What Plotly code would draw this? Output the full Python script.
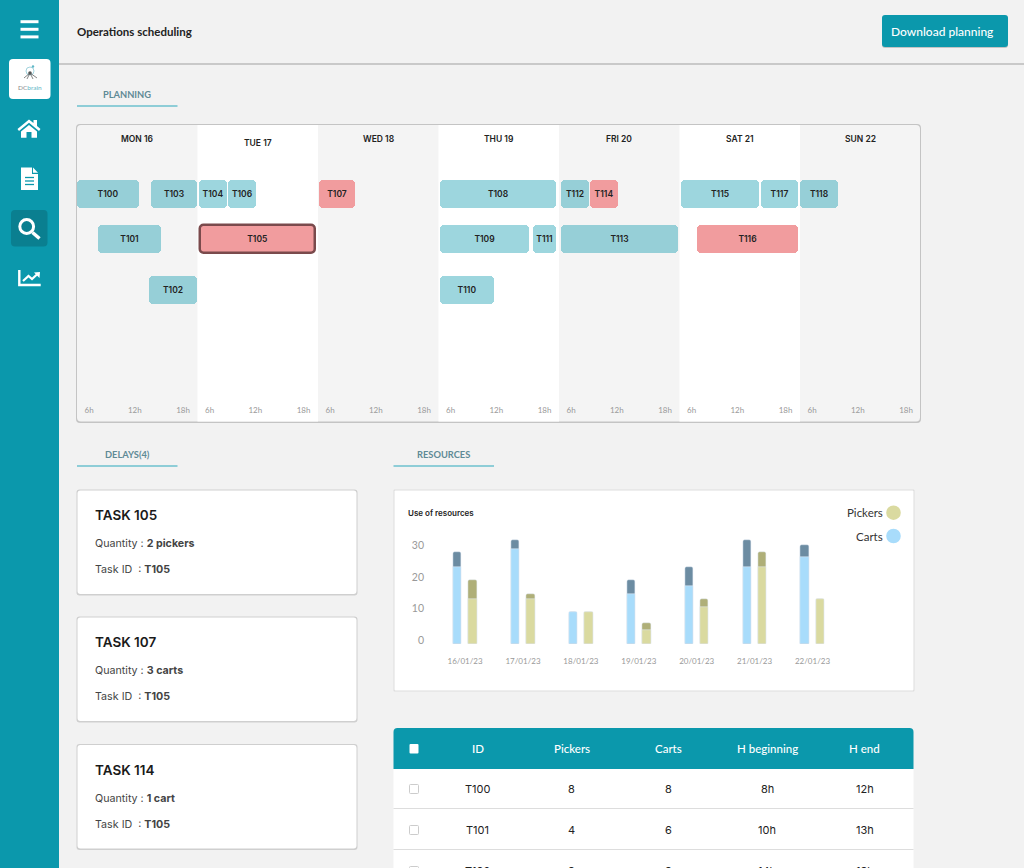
#!/usr/bin/env python3
"""
Operations scheduling page: planning, delays, use of resources and task table
"""

import plotly.graph_objects as go

PAGE_W = 1024
PAGE_H = 868

TEAL = '#0B98AC'
TASK_TEAL = 'rgba(11, 152, 172, 0.4)'
TASK_RED = '#F19C9E'
HEAD_FONT = 'Lato'
BODY_FONT = 'Inter'

# Planning (positions in days from Monday 00:00 of the axis)
day_labels = ['MON 16', 'TUE 17', 'WED 18', 'THU 19', 'FRI 20', 'SAT 21', 'SUN 22']
hour_labels = ['6h', '12h', '18h']
hour_offsets = [0.1, 0.48, 0.88]

task_names = ['T100', 'T101', 'T102', 'T103', 'T104', 'T106', 'T108', 'T109', 'T110',
              'T111', 'T112', 'T113', 'T115', 'T117', 'T118']
task_start = [0.0, 0.172, 0.6, 0.614, 1.012, 1.253, 3.01, 3.01, 3.01,
              3.784, 4.017, 4.017, 5.012, 5.676, 6.0]
task_end = [0.517, 0.697, 0.996, 0.996, 1.245, 1.485, 3.978, 3.751, 3.46,
            3.978, 4.249, 4.985, 5.66, 5.983, 6.313]
task_lane = [1, 2, 3.13, 1, 1, 1, 1, 2, 3.13, 2, 1, 2, 1, 1, 1]

late_names = ['T107', 'T114', 'T116']
late_start = [2.012, 4.257, 5.143]
late_end = [2.307, 4.49, 5.983]
late_lane = [1, 1, 2]

selected_names = ['T105']
selected_start = [1.017]
selected_end = [1.979]
selected_lane = [2]

# Use of resources
res_dates = ['16/01/23', '17/01/23', '18/01/23', '19/01/23', '20/01/23', '21/01/23', '22/01/23']
carts_low = [24.0, 29.7, 9.9, 15.6, 18.1, 24.0, 27.2]
carts_top = [28.65, 32.6, 9.9, 19.9, 24.0, 32.6, 30.8]
pickers_low = [13.9, 13.9, 9.9, 4.2, 11.6, 24.0, 13.9]
pickers_top = [19.9, 15.6, 9.9, 6.5, 13.9, 28.65, 13.9]
res_tick_vals = [0.95, 10.95, 20.95, 30.95]
res_tick_text = ['0', '10', '20', '30']

# Delays
delay_titles = ['TASK 105', 'TASK 107', 'TASK 114']
delay_quantity = ['2 pickers', '3 carts', '1 cart']
delay_task = ['T105', 'T105', 'T105']

# Table
table_columns = ['ID', 'Pickers', 'Carts', 'H beginning', 'H end']
table_ids = ['T100', 'T101', 'T102']
table_pickers = ['8', '4', '8']
table_carts = ['8', '6', '8']
table_begin = ['8h', '10h', '14h']
table_end = ['12h', '13h', '18h']


def page_x(px):
    """Page pixel to paper x"""
    return px / PAGE_W


def page_y(px):
    """Page pixel to paper y"""
    return 1 - px / PAGE_H


def page_path(path):
    """Turn a path written in page pixels into a paper path"""
    out = []
    is_x = True
    for token in path.split():
        if token.isalpha():
            out.append(token)
        elif is_x:
            out.append(f"{page_x(float(token)):.5f}")
            is_x = False
        else:
            out.append(f"{page_y(float(token)):.5f}")
            is_x = True
    return ' '.join(out)


def round_box(x0, y0, x1, y1, r=3, top_only=False):
    """SVG path of a rounded box in page pixels"""
    low = 0 if top_only else r
    return (f"M {x0 + r} {y0} L {x1 - r} {y0} Q {x1} {y0} {x1} {y0 + r} "
            f"L {x1} {y1 - low} Q {x1} {y1} {x1 - low} {y1} "
            f"L {x0 + low} {y1} Q {x0} {y1} {x0} {y1 - low} "
            f"L {x0} {y0 + r} Q {x0} {y0} {x0 + r} {y0} Z")


def add_box(fig, x0, y0, x1, y1, fill, r=3, line=None, width=0, top_only=False, layer='below'):
    """Rounded panel in page pixels"""
    fig.add_shape(
        type='path',
        path=page_path(round_box(x0, y0, x1, y1, r, top_only)),
        xref='paper', yref='paper',
        fillcolor=fill,
        line=dict(color=line or fill, width=width),
        layer=layer
    )


def add_stroke(fig, path, color='white', width=3, fill=None):
    """Stroked or filled path in page pixels"""
    fig.add_shape(
        type='path',
        path=page_path(path),
        xref='paper', yref='paper',
        fillcolor=fill,
        line=dict(color=color, width=width),
        layer='above'
    )


def add_circle(fig, x, y, r, fill=None, line=None, width=0, layer='above'):
    """Circle in page pixels"""
    fig.add_shape(
        type='circle',
        x0=page_x(x - r), x1=page_x(x + r),
        y0=page_y(y + r), y1=page_y(y - r),
        xref='paper', yref='paper',
        fillcolor=fill,
        line=dict(color=line, width=width),
        layer=layer
    )


def add_text(fig, x, y, text, size=11, color='#222222', anchor='left', family=HEAD_FONT, weight='normal'):
    """Text at a page pixel position"""
    fig.add_annotation(
        x=page_x(x), y=page_y(y),
        xref='paper', yref='paper',
        text=text,
        showarrow=False,
        xanchor=anchor, yanchor='middle',
        borderpad=0, borderwidth=0,
        font=dict(size=size, color=color, family=family, weight=weight)
    )


def draw_sidebar(fig):
    """Teal side menu and its icons"""
    fig.add_shape(type='rect', x0=0, x1=page_x(59), y0=0, y1=1, xref='paper', yref='paper',
                  fillcolor=TEAL, line=dict(width=0), layer='below')

    for y in [21.7, 29.3, 36.9]:  # hamburger
        add_stroke(fig, f"M 20.5 {y} L 38.5 {y}", width=3)

    add_box(fig, 9, 59, 50.5, 99, 'white', r=4)
    add_circle(fig, 30, 71, 4, line='#8CC8D4', width=0.8)
    add_circle(fig, 33, 66.5, 1.2, fill='#5DB6C6')
    add_stroke(fig, "M 30 73 L 24 78 M 30 73 L 27 79 M 30 73 L 33 79 M 30 73 L 37 78", color='#666666', width=0.8)
    add_circle(fig, 30, 73, 1.8, fill='#555555')
    add_text(fig, 30, 87, "DC<span style='color:#5DB6C6'>brain</span>", size=6.5, color='#888888', anchor='center')

    # home
    add_stroke(fig, "M 17.5 129 L 29 119.5 L 33.5 123 L 33.5 120 L 37 120 L 37 126 L 40.5 129 "
                    "L 39 131 L 29 122.8 L 19 131 Z", width=0, fill='white')
    add_stroke(fig, "M 21 131.5 L 29 125 L 37 131.5 L 37 137.7 L 31.5 137.7 L 31.5 132 "
                    "L 26.5 132 L 26.5 137.7 L 21 137.7 Z", width=0, fill='white')

    # document
    add_stroke(fig, "M 21 167.5 L 32 167.5 L 32 174 L 38 174 L 38 190 L 21 190 Z", width=0, fill='white')
    add_stroke(fig, "M 33 167.5 L 38 172.8 L 33 172.8 Z", width=0, fill='white')
    for y in [177.5, 181, 184.5]:
        add_stroke(fig, f"M 25 {y} L 34 {y}", color=TEAL, width=1.3)

    # search, the selected entry
    add_box(fig, 11, 210, 47.5, 246.5, '#0A7F90', r=4)
    add_circle(fig, 26.7, 226.5, 6.9, line='white', width=3)
    add_stroke(fig, "M 32.5 232.5 L 39.5 238.5", width=3.5)

    # chart
    add_stroke(fig, "M 19.3 270 L 19.3 285 L 40.7 285", width=2.4)
    add_stroke(fig, "M 23 281 L 28.5 276 L 32 279 L 38 273.5", width=2.2)
    add_stroke(fig, "M 34 272.5 L 40 272 L 39.5 278 Z", width=0, fill='white')


def draw_header(fig):
    """Top bar and section tabs"""
    fig.add_shape(type='rect', x0=page_x(59), x1=1, y0=page_y(65), y1=page_y(63), xref='paper', yref='paper',
                  fillcolor='#C9C9C9', line=dict(width=0), layer='below')
    add_text(fig, 77, 31.5, 'Operations scheduling', size=11.5, weight=700)
    add_box(fig, 882, 16, 1008, 48, '#C4C4C4', r=3)
    add_box(fig, 882, 15, 1008, 47, TEAL, r=3)
    add_text(fig, 942, 31.5, 'Download planning', size=12, color='white', anchor='center', weight=500)

    tabs = [('PLANNING', 77, 94, 106), ('DELAYS(4)', 77, 454, 466), ('RESOURCES', 393.5, 454, 466)]
    for label, x0, y_text, y_line in tabs:
        add_text(fig, x0 + 50, y_text, label, size=9.3, color='#5F8A96', anchor='center', weight=700)
        fig.add_shape(type='line', x0=page_x(x0), x1=page_x(x0 + 100.5), y0=page_y(y_line), y1=page_y(y_line),
                      xref='paper', yref='paper', line=dict(color='#6CC1CE', width=1.3), layer='below')


def add_task_trace(fig, names, start, end, lane, color, line_color=None, line_width=0):
    """One group of Gantt tasks"""
    fig.add_trace(go.Bar(
        y=lane,
        x=[e - s for s, e in zip(start, end)],
        base=start,
        orientation='h',
        width=0.62,
        text=names,
        textposition='inside',
        insidetextanchor='middle',
        textangle=0,
        constraintext='none',
        textfont=dict(size=8.5, color='#222222', family=BODY_FONT, weight=600),
        marker=dict(color=color, cornerradius=4, line=dict(color=line_color or color, width=line_width)),
        xaxis='x',
        yaxis='y',
        showlegend=False
    ))


def draw_planning(fig):
    """Planning panel with the day bands and the tasks"""
    add_box(fig, 76, 124, 921, 423, '#C4C4C4', r=4)
    add_box(fig, 77, 125, 920, 421.5, '#F4F4F4', r=4)

    for i, label in enumerate(day_labels):
        if i % 2 == 1:
            fig.add_shape(type='rect', x0=i, x1=i + 1, y0=page_y(421.5), y1=page_y(125),
                          xref='x', yref='paper', fillcolor='white', line=dict(width=0), layer='below')
        fig.add_annotation(
            x=i + 0.5, y=page_y(143 if label == 'TUE 17' else 139),
            xref='x', yref='paper',
            text=label,
            showarrow=False,
            yanchor='middle',
            font=dict(size=8.5, color='#222222', family=BODY_FONT, weight=600)
        )

    add_task_trace(fig, task_names, task_start, task_end, task_lane, TASK_TEAL)
    add_task_trace(fig, late_names, late_start, late_end, late_lane, TASK_RED)
    add_task_trace(fig, selected_names, selected_start, selected_end, selected_lane, TASK_RED, '#7A4A4C', 2.5)

    tick_vals = []
    tick_text = []
    for day in range(len(day_labels)):
        for offset, label in zip(hour_offsets, hour_labels):
            tick_vals.append(day + offset)
            tick_text.append(label)

    fig.update_layout(
        xaxis=dict(domain=[page_x(77), page_x(920.5)], anchor='y', range=[0, 7], tickmode='array',
                   tickvals=tick_vals, ticktext=tick_text, showgrid=False, zeroline=False,
                   showline=False, ticks='outside', ticklen=5, tickcolor='rgba(0,0,0,0)',
                   tickfont=dict(size=8, color='#999999', family=HEAD_FONT)),
        yaxis=dict(domain=[page_y(397), page_y(125)], anchor='x', range=[5.511, -0.533], visible=False)
    )


def draw_delays(fig):
    """The three delay cards"""
    for i, title in enumerate(delay_titles):
        top = [490, 617, 744.5][i]
        add_box(fig, 76.5, top - 0.5, 357.5, top + 105.5, '#CFCFCF', r=3)
        add_box(fig, 77.5, top + 0.5, 356.5, top + 104, 'white', r=3)
        add_text(fig, 95, top + 25, title, size=13.5, color='#1A1A1A', family=BODY_FONT, weight=600)
        add_text(fig, 95, top + 53.5, f"Quantity : <b>{delay_quantity[i]}</b>", size=10.7, color='#444444',
                 family=BODY_FONT)
        add_text(fig, 95, top + 79.5, f"Task ID  : <b>{delay_task[i]}</b>", size=10.7, color='#444444',
                 family=BODY_FONT)


def draw_resources(fig):
    """Use of resources bar chart"""
    add_box(fig, 393.5, 489.5, 914.5, 691.5, '#DDDDDD', r=1)
    add_box(fig, 394.5, 490.5, 913.5, 690.5, 'white', r=1)
    add_text(fig, 408, 512.5, 'Use of resources', size=8, family=BODY_FONT, weight=600)

    series = [
        (carts_low, carts_top, -0.206, '#A8DCFB', '#6C8CA2'),
        (pickers_low, pickers_top, 0.06, '#DADAA0', '#AFAF78')
    ]
    for low, top, offset, color, dark in series:
        fig.add_trace(go.Bar(
            x=res_dates, y=top,
            width=0.146, offset=offset,
            marker=dict(color=dark, cornerradius=2),
            xaxis='x2', yaxis='y2', showlegend=False
        ))
        fig.add_trace(go.Bar(
            x=res_dates, y=low,
            width=0.146, offset=offset,
            marker=dict(color=color, cornerradius=1),
            xaxis='x2', yaxis='y2', showlegend=False
        ))

    fig.update_layout(
        xaxis2=dict(domain=[page_x(436.15), page_x(841.45)], anchor='y2', type='category', showgrid=False,
                    zeroline=False, showline=False, ticks='outside', ticklen=10, tickcolor='rgba(0,0,0,0)',
                    tickfont=dict(size=8, color='#999999', family=HEAD_FONT)),
        yaxis2=dict(domain=[page_y(643.7), page_y(530)], anchor='x2', range=[0, 35.64], tickmode='array',
                    tickvals=res_tick_vals, ticktext=res_tick_text, showgrid=False, zeroline=False,
                    showline=False, ticks='outside', ticklen=9, tickcolor='rgba(0,0,0,0)',
                    tickfont=dict(size=10.5, color='#999999', family=HEAD_FONT))
    )

    for label, y, color in [('Pickers', 512.7, '#DADAA0'), ('Carts', 536, '#A8DCFB')]:
        add_text(fig, 882.5, y, label, size=11.5, color='#333333', anchor='right')
        add_circle(fig, 893.5, y, 7.3, fill=color, layer='below')


def draw_table(fig):
    """Task table, running off the bottom of the page"""
    centers = [477.9, 571.5, 668.9, 767, 864.6]
    add_box(fig, 393.5, 728, 913.5, 769, TEAL, r=4, top_only=True)
    fig.add_shape(type='rect', x0=page_x(393.5), x1=page_x(913.5), y0=0, y1=page_y(769),
                  xref='paper', yref='paper', fillcolor='white', line=dict(width=0), layer='below')

    add_box(fig, 409.5, 744, 418.5, 753.5, 'white', r=1)
    for label, x in zip(table_columns, centers):
        add_text(fig, x, 748.5, label, size=11.5, color='white', anchor='center', weight=500)

    rows = zip(table_ids, table_pickers, table_carts, table_begin, table_end)
    for i, row in enumerate(rows):
        y = 789 + i * 41
        add_box(fig, 409.5, y - 4.5, 418.5, y + 4.5, 'white', r=1, line='#CCCCCC', width=1)
        for value, x in zip(row, centers):
            add_text(fig, x, y, value, size=11, color='#222222', anchor='center', family=BODY_FONT)
        if i < 2:
            fig.add_shape(type='line', x0=page_x(393.5), x1=page_x(913.5), y0=page_y(y + 19.5), y1=page_y(y + 19.5),
                          xref='paper', yref='paper', line=dict(color='#DDDDDD', width=1), layer='below')


def main():
    """Build the page"""
    fig = go.Figure()

    print("Drawing page...")
    draw_sidebar(fig)
    draw_header(fig)
    draw_planning(fig)
    draw_delays(fig)
    draw_resources(fig)
    draw_table(fig)

    fig.update_layout(
        width=PAGE_W,
        height=PAGE_H,
        margin=dict(l=0, r=0, t=0, b=0, autoexpand=False),
        barmode='overlay',
        bargap=0,
        paper_bgcolor='#F2F2F2',
        plot_bgcolor='rgba(0,0,0,0)',
        showlegend=False
    )

    fig.write_html(
        'out.html',
        config=dict(displayModeBar=False),
        post_script="document.body.style.margin='0';document.body.style.overflow='hidden';"
    )
    print("Saved to: out.html")


if __name__ == "__main__":
    main()
